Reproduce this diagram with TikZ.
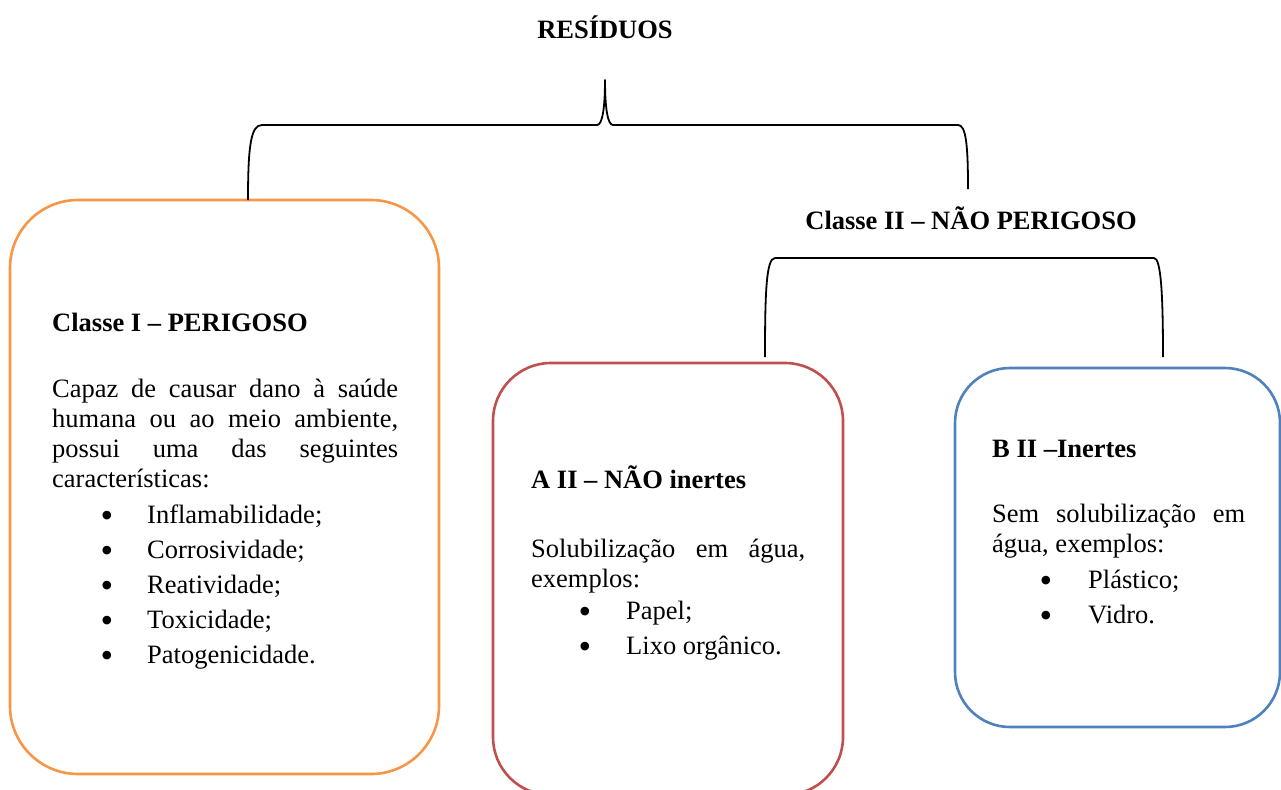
\documentclass[tikz,border=0pt]{standalone}
\usepackage{fontspec}
\setmainfont{Liberation Serif}
\definecolor{boxorange}{HTML}{F79646}
\definecolor{boxred}{HTML}{C0504D}
\definecolor{boxblue}{HTML}{4F81BD}
\tikzset{
  panel/.style={draw, line width=2.6pt, anchor=north west, inner sep=0pt, outer sep=0pt},
  txt/.style={anchor=base west, inner sep=0pt, font=\fontsize{26.5}{30}\selectfont},
  ttl/.style={txt, font=\fontsize{26.5}{30}\selectfont\bfseries},
  blt/.style={anchor=base, inner sep=0pt, yshift=-4pt, text height=14pt, text depth=0pt, font=\fontsize{36}{36}\selectfont},
  bracepath/.style={draw=black, line width=1.8pt, line join=round},
}
\begin{document}
\begin{tikzpicture}[x=1pt,y=-1pt]
\useasboundingbox (0,0) rectangle (1281,789);

% headings
\node[ttl, anchor=base] (res) at (605,39) {RESÍDUOS};
\node[ttl, anchor=base] (cls2) at (971,229) {Classe II – NÃO PERIGOSO};

% panels
\node[panel, draw=boxorange, minimum width=429pt, minimum height=574pt, rounded corners=68pt] (box1) at (10,200) {};
\node[panel, draw=boxred, minimum width=350pt, minimum height=432pt, rounded corners=58pt] (box2) at (493,363) {};
\node[panel, draw=boxblue, minimum width=325pt, minimum height=359pt, rounded corners=55pt] (box3) at (955,368) {};

% brace coordinates
\coordinate (tip1) at (605,80);
\coordinate (arm1) at ([xshift=238pt]box1.north west);
\coordinate (arm2) at ([xshift=-3pt,yshift=17pt]cls2.north);
\coordinate (arm3) at ([xshift=272pt,yshift=6pt]box2.north west);
\coordinate (arm4) at ([xshift=208pt,yshift=11pt]box3.north west);

% braces
\draw[bracepath] (arm1) .. controls (248,145) and (251,125) .. (262,125)
  -- (597,125) .. controls (602,125) and (605,110) .. (tip1)
  .. controls (605,110) and (608,125) .. (613,125)
  -- (958,125) .. controls (966,125) and (968,145) .. (arm2);
\draw[bracepath] (arm3) .. controls (765,295) and (766,258) .. (775,258)
  -- (1154,258) .. controls (1161,258) and (1163,295) .. (arm4);

% box 1 text
\node[ttl] (t1) at (52,331) {Classe I – PERIGOSO};
\node[txt] (p1a) at (52,397) {\makebox[346pt][s]{Capaz de causar dano à saúde}};
\node[txt] (p1b) at (52,427) {\makebox[346pt][s]{humana ou ao meio ambiente,}};
\node[txt] (p1c) at (52,457) {\makebox[346pt][s]{possui uma das seguintes}};
\node[txt] (p1d) at (52,487) {características:};
\foreach \y/\w [count=\i] in {523/Inflamabilidade;,558/Corrosividade;,593/Reatividade;,628/Toxicidade;,663/Patogenicidade.}{
  \node[blt] (b1\i) at (107,\y) {•};
  \node[txt] (l1\i) at (147,\y) {\w};
}

% box 2 text
\node[ttl] (t2) at (531,488) {A II – NÃO inertes};
\node[txt] (p2a) at (531,557) {\makebox[274pt][s]{Solubilização em água,}};
\node[txt] (p2b) at (531,587) {exemplos:};
\node[blt] (b21) at (585,619) {•};
\node[txt] (l21) at (626,619) {Papel;};
\node[blt] (b22) at (585,654) {•};
\node[txt] (l22) at (626,654) {Lixo orgânico.};

% box 3 text
\node[ttl] (t3) at (992,457) {B II –Inertes};
\node[txt] (p3a) at (992,522) {\makebox[253pt][s]{Sem solubilização em}};
\node[txt] (p3b) at (992,552) {água, exemplos:};
\node[blt] (b31) at (1046,588) {•};
\node[txt] (l31) at (1088,588) {Plástico;};
\node[blt] (b32) at (1046,623) {•};
\node[txt] (l32) at (1088,623) {Vidro.};
\end{tikzpicture}
\end{document}
